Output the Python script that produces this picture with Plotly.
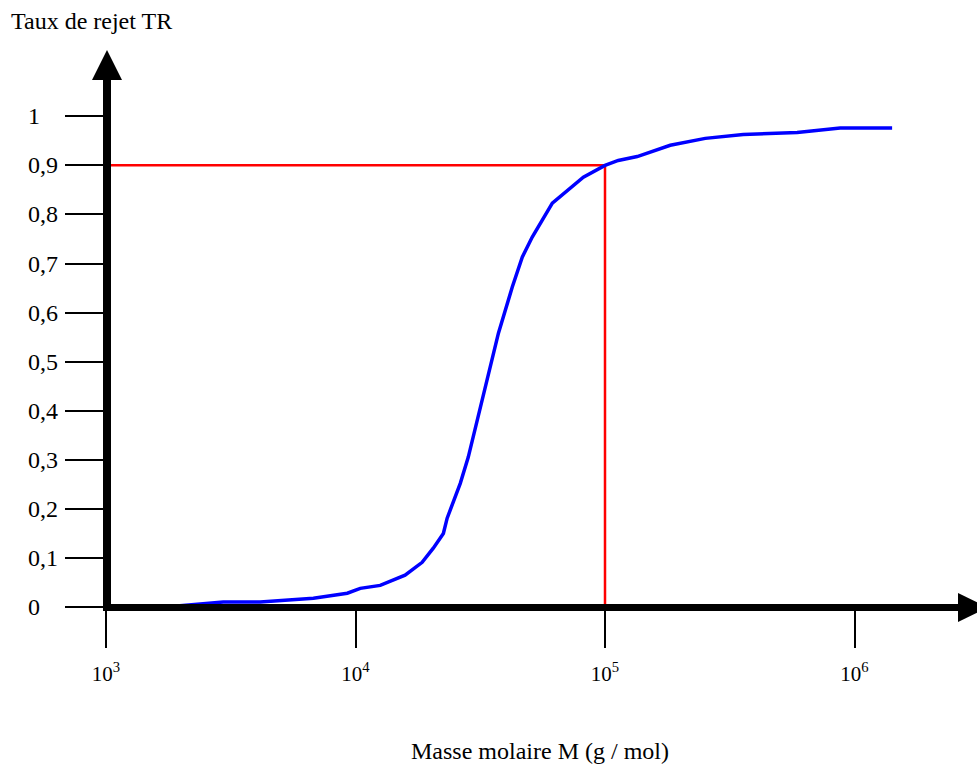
import plotly.graph_objects as go

# Rejection curve of a membrane: rejection rate TR versus molar mass M
masse_molaire = [1000, 1730, 2950, 4150, 6780, 9270, 10450, 12560, 15800, 18500,
                 20500, 22500, 23300, 26300, 28300, 30800, 32500, 37400, 42500,
                 46600, 51100, 61500, 81900, 100000, 113000, 134600, 182600,
                 252300, 358100, 589200, 876200, 1415000]
taux_rejet = [0, 0, 0.01, 0.01, 0.018, 0.028, 0.038, 0.044, 0.065, 0.091,
              0.12, 0.15, 0.181, 0.252, 0.305, 0.38, 0.435, 0.558, 0.652,
              0.713, 0.754, 0.823, 0.876, 0.9, 0.91, 0.918, 0.941,
              0.955, 0.963, 0.967, 0.976, 0.976]

# Cut-off point (90 % rejection)
seuil_masse = 100000
seuil_taux = 0.9

# Axis ticks
x_tick_values = [1e3, 1e4, 1e5, 1e6]
x_tick_labels = ["10<sup>3</sup>", "10<sup>4</sup>", "10<sup>5</sup>", "10<sup>6</sup>"]
y_tick_values = [0, 0.1, 0.2, 0.3, 0.4, 0.5, 0.6, 0.7, 0.8, 0.9, 1]
y_tick_labels = ["0", "0,1", "0,2", "0,3", "0,4", "0,5", "0,6", "0,7", "0,8", "0,9", "1"]

# Page geometry
FIG_W, FIG_H = 977, 764
M_L, M_R, M_T, M_B = 106, 0, 0, 157
PLOT_W = FIG_W - M_L - M_R
PLOT_H = FIG_H - M_T - M_B
PX_PER_DECADE = 249.5
PX_PER_UNIT = 490.7
X_RANGE = [3, 3 + PLOT_W / PX_PER_DECADE]
Y_RANGE = [0, PLOT_H / PX_PER_UNIT]

FONT = "Liberation Serif, Times New Roman, serif"


def px(d):
    """Horizontal pixel offset from the plot's left edge -> paper units."""
    return d / PLOT_W


def py(d):
    """Vertical pixel offset from the plot's bottom edge -> paper units."""
    return d / PLOT_H


fig = go.Figure()

# Red guide lines locating the cut-off
fig.add_trace(go.Scatter(
    x=[masse_molaire[0], seuil_masse, seuil_masse],
    y=[seuil_taux, seuil_taux, 0],
    mode="lines",
    line=dict(color="#ff0000", width=2.5),
    hoverinfo="skip",
))

# Rejection curve
fig.add_trace(go.Scatter(
    x=masse_molaire,
    y=taux_rejet,
    mode="lines",
    line=dict(color="#0000ff", width=3.5),
))

# Thick axes with arrowheads
AXIS_COLOR = "black"
shapes = [
    dict(type="line", xref="paper", yref="paper", layer="above",
         x0=px(1), x1=px(1), y0=py(-4), y1=py(527),
         line=dict(color=AXIS_COLOR, width=8)),
    dict(type="path", xref="paper", yref="paper", layer="above",
         path=f"M {px(-14)} {py(527)} L {px(1)} {py(557)} L {px(16)} {py(527)} Z",
         fillcolor=AXIS_COLOR, line=dict(width=0)),
    dict(type="line", xref="paper", yref="paper", layer="above",
         x0=px(-3), x1=px(852), y0=py(-0.5), y1=py(-0.5),
         line=dict(color=AXIS_COLOR, width=7)),
    dict(type="path", xref="paper", yref="paper", layer="above",
         path=f"M {px(852)} {py(14)} L {px(882)} {py(-0.5)} L {px(852)} {py(-15)} Z",
         fillcolor=AXIS_COLOR, line=dict(width=0)),
]

annotations = [
    dict(text="Taux de rejet TR", xref="paper", yref="paper",
         x=px(11.3 - M_L), y=py(PLOT_H - 21), xanchor="left", yanchor="middle",
         showarrow=False, borderpad=0, borderwidth=0,
         font=dict(family=FONT, size=24, color="black")),
    dict(text="Masse molaire M (g / mol)", xref="paper", yref="paper",
         x=px(539.5 - M_L), y=py(-144), xanchor="center", yanchor="middle",
         showarrow=False, borderpad=0, borderwidth=0,
         font=dict(family=FONT, size=24, color="black")),
]
for v, lab in zip(y_tick_values, y_tick_labels):
    annotations.append(dict(
        text=lab, xref="paper", yref="y", x=px(27.5 - M_L), y=v,
        xanchor="left", yanchor="middle", showarrow=False,
        borderpad=0, borderwidth=0,
        font=dict(family=FONT, size=24, color="black")))

fig.update_layout(
    width=FIG_W, height=FIG_H, autosize=False,
    margin=dict(l=M_L, r=M_R, t=M_T, b=M_B, pad=0),
    paper_bgcolor="white", plot_bgcolor="white",
    showlegend=False,
    shapes=shapes,
    annotations=annotations,
    xaxis=dict(
        type="log", range=X_RANGE,
        tickvals=x_tick_values, ticktext=x_tick_labels,
        ticks="outside", ticklen=40, tickwidth=1.8, tickcolor="black",
        ticklabelstandoff=8,
        showgrid=False, zeroline=False, showline=False,
        tickfont=dict(family=FONT, size=21, color="black"),
    ),
    yaxis=dict(
        range=Y_RANGE,
        tickvals=y_tick_values,
        ticks="outside", ticklen=40, tickwidth=1.8, tickcolor="black",
        showticklabels=False,
        showgrid=False, zeroline=False, showline=False,
    ),
)

fig.write_html("out.html")
